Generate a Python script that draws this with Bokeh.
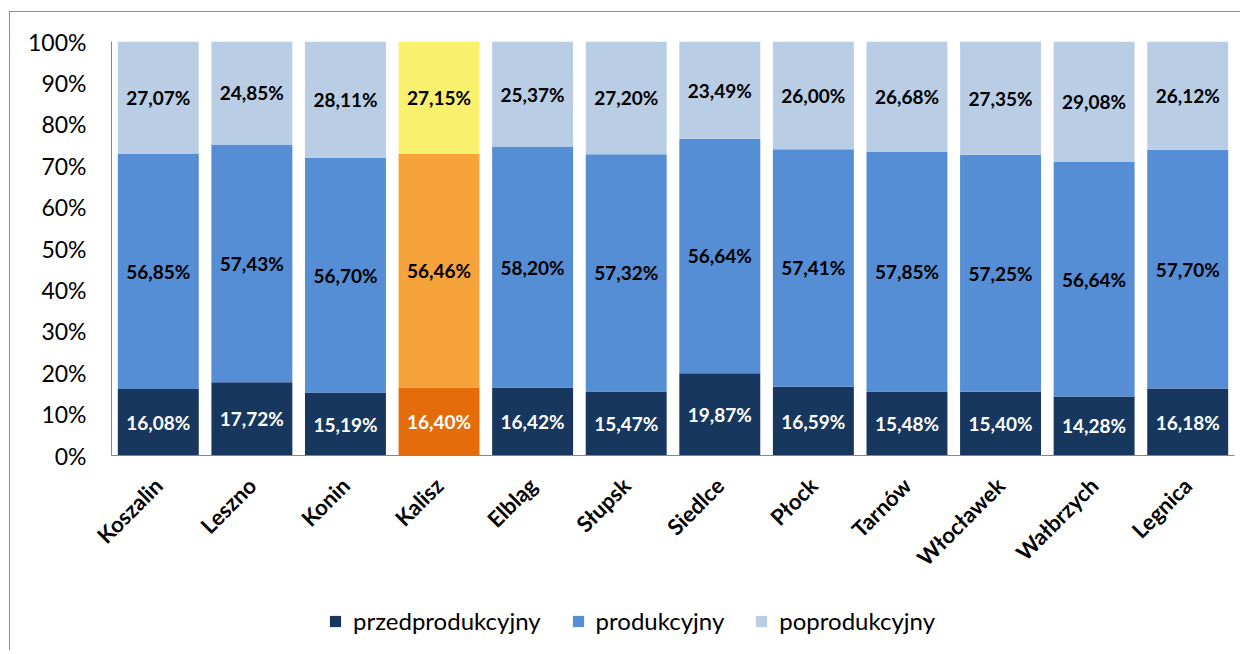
import math
from bokeh.plotting import figure
from bokeh.layouts import column
from bokeh.models import ColumnDataSource, FactorRange, Range1d, Legend, LegendItem, LabelSet, FixedTicker
from bokeh.embed import file_html
from bokeh.resources import INLINE
from bokeh.core.properties import value

cities = ["Koszalin", "Leszno", "Konin", "Kalisz", "Elbląg", "Słupsk", "Siedlce",
          "Płock", "Tarnów", "Włocławek", "Wałbrzych", "Legnica"]
przed = [16.08, 17.72, 15.19, 16.40, 16.42, 15.47, 19.87, 16.59, 15.48, 15.40, 14.28, 16.18]
prod = [56.85, 57.43, 56.70, 56.46, 58.20, 57.32, 56.64, 57.41, 57.85, 57.25, 56.64, 57.70]
popr = [27.07, 24.85, 28.11, 27.15, 25.37, 27.20, 23.49, 26.00, 26.68, 27.35, 29.08, 26.12]
series_names = ["przedprodukcyjny", "produkcyjny", "poprodukcyjny"]
highlight = "Kalisz"
y_ticks = [0, 10, 20, 30, 40, 50, 60, 70, 80, 90, 100]

base_colors = ["#17375E", "#558ED5", "#B9CDE5"]
hl_colors = ["#E46C0A", "#F5A33A", "#F9F06E"]
label_colors = ["white", "black", "black"]

def fmt(v):
    return f"{v:.2f}".replace(".", ",") + "%"

data = {"x": cities}
series = [przed, prod, popr]
bottom = [0.0] * len(cities)
for i, vals in enumerate(series):
    top = [b + v for b, v in zip(bottom, vals)]
    data[f"b{i}"] = bottom
    data[f"t{i}"] = top
    data[f"m{i}"] = [(b + t) / 2 for b, t in zip(bottom, top)]
    data[f"c{i}"] = [hl_colors[i] if c == highlight else base_colors[i] for c in cities]
    data[f"l{i}"] = [fmt(v) for v in vals]
    data[f"lc{i}"] = [label_colors[i]] * len(cities)
    bottom = top
src = ColumnDataSource(data)

# main chart
p = figure(frame_width=1123, frame_height=414, x_range=FactorRange(*cities, range_padding=0),
           y_range=Range1d(0, 100), output_backend="svg", toolbar_location=None,
           min_border_left=101, min_border_top=29, min_border_right=6, min_border_bottom=135)
p.x_range.range_padding = 0

for i in range(3):
    p.vbar(x="x", bottom=f"b{i}", top=f"t{i}", width=0.865, source=src,
           fill_color=f"c{i}", line_color=None)
    lbl = LabelSet(x="x", y=f"m{i}", text=f"l{i}", source=src, text_align="center",
                   text_baseline="middle", text_font=value("Lato"), text_font_style="bold",
                   text_font_size="19px", text_color=f"lc{i}")
    p.add_layout(lbl)

p.xgrid.grid_line_color = None
p.ygrid.grid_line_color = None
p.outline_line_color = None

p.yaxis.ticker = FixedTicker(ticks=y_ticks)
p.yaxis.major_label_overrides = {t: f"{t}%" for t in y_ticks}
p.yaxis.major_tick_line_color = None
p.yaxis.minor_tick_line_color = None
p.yaxis.axis_line_color = "#868686"
p.yaxis.major_label_text_font = "Lato"
p.yaxis.major_label_text_font_size = "23px"
p.yaxis.major_label_text_color = "black"
p.yaxis.major_label_standoff = 19

p.xaxis.major_label_orientation = math.pi / 4
p.xaxis.major_tick_line_color = None
p.xaxis.axis_line_color = "#868686"
p.xaxis.major_label_text_font = "Lato"
p.xaxis.major_label_text_font_style = "bold"
p.xaxis.major_label_text_font_size = "22px"
p.xaxis.major_label_text_color = "black"
p.xaxis.major_label_standoff = 20

# legend strip (same series, drawn out of view so only the legend shows)
pl = figure(width=1230, height=60, x_range=FactorRange(*cities), y_range=Range1d(1000, 1001),
            output_backend="svg", toolbar_location=None, min_border=0,
            x_axis_location=None, y_axis_location=None)
pl.xgrid.grid_line_color = None
pl.ygrid.grid_line_color = None
pl.outline_line_color = None
leg_renderers = []
for i in range(3):
    r = pl.vbar(x="x", bottom=f"b{i}", top=f"t{i}", width=0.865, source=src,
                fill_color=f"c{i}", line_color=None)
    leg_renderers.append(r)

legend = Legend(items=[LegendItem(label=series_names[i], renderers=[leg_renderers[i]], index=0) for i in range(3)],
                orientation="horizontal", location=(217, 15), border_line_color=None,
                background_fill_alpha=0, label_text_font="Lato", label_text_font_size="24px",
                label_text_color="black",
                glyph_width=14, glyph_height=14, spacing=30, padding=0, margin=0,
                label_standoff=11)
pl.add_layout(legend, "center")

layout = column(p, pl, spacing=0)
layout.styles = {"margin-left": "9px", "margin-top": "11px",
                 "border-left": "1px solid #8c8c8c", "border-top": "1px solid #8c8c8c"}

open("out.html", "w").write(file_html(layout, INLINE))
